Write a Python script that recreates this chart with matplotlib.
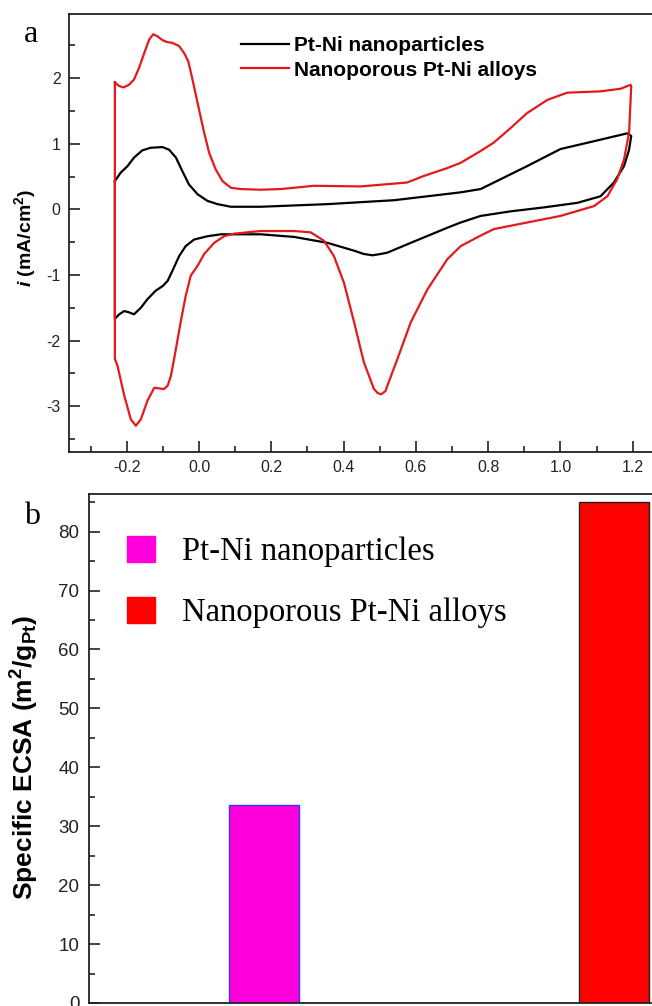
import matplotlib
matplotlib.use("Agg")
import matplotlib.pyplot as plt
from matplotlib.ticker import MultipleLocator

plt.rcParams['font.family'] = ['Liberation Sans', 'DejaVu Sans']
plt.rcParams['mathtext.fontset'] = 'custom'
plt.rcParams['mathtext.rm'] = 'Liberation Sans:bold'
plt.rcParams['mathtext.it'] = 'Liberation Sans:italic:bold'
plt.rcParams['mathtext.bf'] = 'Liberation Sans:bold'

# --- panel a : cyclic voltammograms (potential in V, current in mA/cm2) ---
labels_cv = ["Pt-Ni nanoparticles", "Nanoporous Pt-Ni alloys"]

# Pt-Ni nanoparticles : anodic sweep, then cathodic sweep
np_E_up = [-0.233, -0.217, -0.198, -0.180, -0.157, -0.134, -0.101, -0.083, -0.064, -0.046,
           -0.028, -0.004, 0.023, 0.051, 0.088, 0.171, 0.355, 0.540, 0.678, 0.724,
           0.779, 0.816, 0.908, 1.000, 1.093, 1.185, 1.196]
np_I_up = [0.43, 0.56, 0.66, 0.79, 0.90, 0.94, 0.95, 0.91, 0.79, 0.58,
           0.38, 0.23, 0.13, 0.08, 0.04, 0.04, 0.08, 0.14, 0.23, 0.26,
           0.31, 0.41, 0.66, 0.92, 1.04, 1.16, 1.12]
np_E_down = [1.190, 1.176, 1.148, 1.111, 1.047, 0.954, 0.862, 0.779, 0.724, 0.687,
             0.586, 0.521, 0.503, 0.480, 0.456, 0.429, 0.355, 0.263, 0.171, 0.060,
             0.023, -0.014, -0.037, -0.055, -0.074, -0.087, -0.101, -0.120, -0.143, -0.161,
             -0.180, -0.194, -0.207, -0.221, -0.233, -0.233]
np_I_down = [0.91, 0.66, 0.41, 0.20, 0.10, 0.03, -0.03, -0.10, -0.20, -0.28,
             -0.51, -0.66, -0.68, -0.70, -0.68, -0.63, -0.51, -0.42, -0.38, -0.38,
             -0.41, -0.46, -0.56, -0.71, -0.94, -1.09, -1.17, -1.24, -1.37, -1.50,
             -1.60, -1.57, -1.55, -1.60, -1.67, 0.43]

# Nanoporous Pt-Ni alloys
pa_E_up = [-0.233, -0.221, -0.209, -0.194, -0.180, -0.166, -0.152, -0.138, -0.127, -0.115,
           -0.101, -0.087, -0.074, -0.055, -0.041, -0.030, -0.021, 0.000, 0.014, 0.028,
           0.046, 0.065, 0.088, 0.115, 0.171, 0.226, 0.318, 0.447, 0.576, 0.622,
           0.687, 0.724, 0.779, 0.816, 0.862, 0.908, 0.964, 1.019, 1.065, 1.111,
           1.167, 1.194]
pa_I_up = [1.94, 1.88, 1.86, 1.90, 1.98, 2.16, 2.38, 2.59, 2.67, 2.64,
           2.58, 2.55, 2.54, 2.49, 2.38, 2.26, 2.05, 1.52, 1.17, 0.86,
           0.61, 0.43, 0.33, 0.31, 0.30, 0.31, 0.36, 0.35, 0.41, 0.51,
           0.63, 0.71, 0.89, 1.02, 1.24, 1.47, 1.67, 1.78, 1.79, 1.80,
           1.84, 1.90]
pa_E_down = [1.196, 1.190, 1.176, 1.157, 1.130, 1.093, 1.000, 0.908, 0.816, 0.779,
             0.724, 0.687, 0.632, 0.586, 0.549, 0.521, 0.516, 0.504, 0.494, 0.484,
             0.456, 0.429, 0.401, 0.373, 0.346, 0.309, 0.263, 0.171, 0.097, 0.069,
             0.042, 0.014, -0.004, -0.023, -0.037, -0.051, -0.069, -0.078, -0.087, -0.097,
             -0.111, -0.124, -0.143, -0.161, -0.175, -0.189, -0.207, -0.226, -0.233, -0.233]
pa_I_down = [1.88, 1.17, 0.76, 0.46, 0.20, 0.05, -0.10, -0.20, -0.30, -0.40,
             -0.56, -0.76, -1.22, -1.72, -2.28, -2.69, -2.77, -2.82, -2.80, -2.74,
             -2.33, -1.72, -1.12, -0.71, -0.48, -0.35, -0.33, -0.33, -0.37, -0.41,
             -0.51, -0.68, -0.86, -1.01, -1.32, -1.72, -2.28, -2.54, -2.69, -2.74,
             -2.73, -2.72, -2.92, -3.20, -3.30, -3.20, -2.84, -2.38, -2.28, 1.94]

# --- panel b : specific ECSA (m2/gPt) ---
samples = ["Pt-Ni nanoparticles", "Nanoporous Pt-Ni alloys"]
ecsa = [33.6, 85.0]
bar_pos = [1, 2]

fig = plt.figure(figsize=(6.52, 10.06), dpi=100)

# panel a (right side runs past the picture edge, as in the original crop)
ax1 = fig.add_axes([0.1058, 0.5507, 0.920, 0.4354])
ax1.plot(np_E_up + np_E_down, np_I_up + np_I_down, color='black', lw=1.6,
         solid_joinstyle='round', label=labels_cv[0])
ax1.plot(pa_E_up + pa_E_down, pa_I_up + pa_I_down, color='#e3191c', lw=1.6,
         solid_joinstyle='round', label=labels_cv[1])
ax1.set_xlim(-0.36, 1.3)
ax1.set_ylim(-3.7, 2.98)
ax1.xaxis.set_minor_locator(MultipleLocator(0.1))
ax1.yaxis.set_minor_locator(MultipleLocator(0.5))
ax1.set_xticks([-0.2, 0.0, 0.2, 0.4, 0.6, 0.8, 1.0, 1.2])
ax1.set_xticklabels(['-0.2', '0.0', '0.2', '0.4', '0.6', '0.8', '1.0', '1.2'])
ax1.set_yticks([-3, -2, -1, 0, 1, 2])
ax1.set_yticklabels(['-3', '-2', '-1', '0', '1', '2'])
ax1.tick_params(which='both', direction='in', top=False, right=False,
                labelsize=11.5, colors='#222222', width=1.2)
ax1.tick_params(which='major', length=8)
ax1.tick_params(which='minor', length=4.5)
ax1.tick_params(axis='y', pad=6)
ax1.tick_params(axis='x', pad=6)
ax1.set_ylabel(r'$i$ (mA/cm$^2$)', fontsize=14, fontweight='bold')
ax1.yaxis.set_label_coords(-0.052, 0.489)
ax1.legend(loc='upper left', bbox_to_anchor=(0.287, 0.95), frameon=False,
           prop={'weight': 'bold', 'size': 15}, handlelength=2.3,
           handletextpad=0.25, labelspacing=0.28, borderaxespad=0, borderpad=0)

# panel b
ax2 = fig.add_axes([0.1365, 0.003, 1.0736, 0.506])
ax2.bar(bar_pos[0], ecsa[0], width=0.2, color='#ff00dd', edgecolor='#3333ff', lw=1,
        label=samples[0])
ax2.bar(bar_pos[1], ecsa[1], width=0.2, color='#ff0000', edgecolor='#222222', lw=1,
        label=samples[1])
ax2.set_xlim(0.5, 2.5)
ax2.set_ylim(0, 86.4)
ax2.set_xticks([])
ax2.yaxis.set_major_locator(MultipleLocator(10))
ax2.yaxis.set_minor_locator(MultipleLocator(5))
ax2.tick_params(which='both', direction='in', labelsize=13.5, colors='#222222',
                width=1.2, pad=7)
ax2.tick_params(which='major', length=8)
ax2.tick_params(which='minor', length=4.5)
ax2.set_ylabel(r'Specific ECSA (m$^2$/g$_{\mathrm{Pt}}$)', fontsize=19, fontweight='bold')
ax2.yaxis.set_label_coords(-0.068, 0.483)
leg2 = ax2.legend(loc='upper left', bbox_to_anchor=(0.055, 0.918), frameon=False,
                  prop={'family': 'Liberation Serif', 'size': 23.5}, handlelength=0.85,
                  handleheight=0.85, handletextpad=0.83, labelspacing=0.92,
                  borderaxespad=0, borderpad=0)
for h in leg2.legend_handles:
    h.set_edgecolor(h.get_facecolor())

for ax in (ax1, ax2):
    for s in ax.spines.values():
        s.set_linewidth(1.3)
        s.set_color('#222222')

fig.text(31 / 652, 1 - 34 / 1006, 'a', fontsize=23, family='Liberation Serif',
         ha='center', va='center')
fig.text(32 / 652, 1 - 516 / 1006, 'b', fontsize=23, family='Liberation Serif',
         ha='center', va='center')

fig.savefig('out.png', dpi=100)
